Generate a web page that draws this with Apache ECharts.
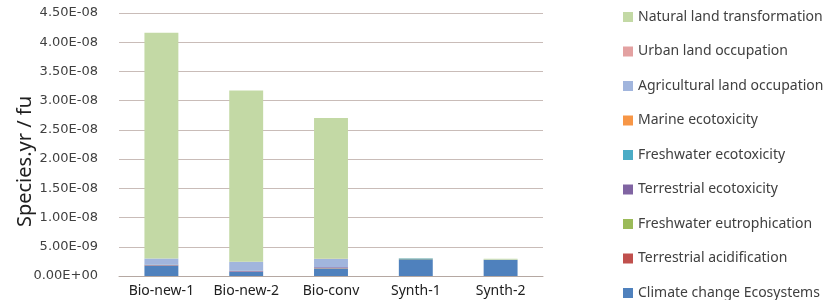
<!DOCTYPE html>
<html>
<head>
<meta charset="utf-8">
<script src="https://cdn.jsdelivr.net/npm/echarts@6/dist/echarts.min.js"></script>
<style>
html,body{margin:0;padding:0;background:#fff;}
#main{width:829px;height:300px;}
</style>
</head>
<body>
<div id="main"></div>
<script>
// 类别
var categories = ['Bio-new-1', 'Bio-new-2', 'Bio-conv', 'Synth-1', 'Synth-2'];
// 各影响类别 (Species.yr / fu)
var climateChange = [1.71e-9, 0.74e-9, 1.25e-9, 2.86e-9, 2.74e-9];
var terrAcidification = [0.05e-9, 0.03e-9, 0.05e-9, 0.01e-9, 0.01e-9];
var freshEutrophication = [0.03e-9, 0.02e-9, 0.03e-9, 0.06e-9, 0.03e-9];
var terrEcotoxicity = [0.15e-9, 0.12e-9, 0.15e-9, 0.0, 0.0];
var freshEcotoxicity = [0.01e-9, 0.01e-9, 0.01e-9, 0.06e-9, 0.01e-9];
var marineEcotoxicity = [0.01e-9, 0.01e-9, 0.01e-9, 0.01e-9, 0.01e-9];
var agriOccupation = [1.03e-9, 1.50e-9, 1.43e-9, 0.02e-9, 0.02e-9];
var urbanOccupation = [0.02e-9, 0.02e-9, 0.02e-9, 0.01e-9, 0.01e-9];
var naturalTransformation = [38.6e-9, 29.3e-9, 24.1e-9, 0.05e-9, 0.14e-9];

var seriesNames = ['Climate change Ecosystems', 'Terrestrial acidification', 'Freshwater eutrophication',
	'Terrestrial ecotoxicity', 'Freshwater ecotoxicity', 'Marine ecotoxicity',
	'Agricultural land occupation', 'Urban land occupation', 'Natural land transformation'];
var seriesData = [climateChange, terrAcidification, freshEutrophication, terrEcotoxicity,
	freshEcotoxicity, marineEcotoxicity, agriOccupation, urbanOccupation, naturalTransformation];
var colors = ['#4f81bd', '#c0504d', '#9bbb59', '#8064a2', '#4bacc6', '#f79646', '#a1b5dd', '#e3a1a1', '#c3d9a5'];

// 科学计数格式 4.50E-08
function sci(v) {
	if (v === 0) return '0.00E+00';
	var s = Number(v).toExponential(2);
	var parts = s.split('e');
	var exp = parseInt(parts[1], 10);
	var sign = exp < 0 ? '-' : '+';
	var a = Math.abs(exp);
	return parts[0] + 'E' + sign + (a < 10 ? '0' + a : a);
}

var series = [];
for (var i = 0; i < seriesNames.length; i++) {
	series.push({
		name: seriesNames[i],
		type: 'bar',
		stack: 'total',
		barWidth: '40%',
		itemStyle: {color: colors[i]},
		data: seriesData[i]
	});
}

var myChart = echarts.init(document.getElementById('main'));
var option = {
	animation: false,
	textStyle: {fontFamily: '"Noto Sans", sans-serif'},
	legend: {
		orient: 'vertical',
		left: 623,
		top: 10,
		padding: 0,
		itemWidth: 10,
		itemHeight: 10,
		itemGap: 20.5,
		icon: 'rect',
		data: seriesNames.slice().reverse(),
		textStyle: {color: '#404040', fontSize: 14, fontFamily: '"Noto Sans", sans-serif'}
	},
	grid: {
		left: 119,
		right: 286,
		top: 13,
		bottom: 24,
		outerBoundsMode: 'none'
	},
	xAxis: {
		type: 'category',
		data: categories,
		axisTick: {show: false},
		axisLine: {lineStyle: {color: '#b5a8a2', width: 1}},
		axisLabel: {color: '#202020', fontSize: 14, margin: 8, interval: 0}
	},
	yAxis: {
		type: 'value',
		min: 0,
		max: 4.5e-8,
		interval: 5e-9,
		name: 'Species.yr / fu',
		nameLocation: 'middle',
		nameGap: 84,
		nameMoveOverlap: false,
		nameTextStyle: {color: '#202020', fontSize: 20, padding: [0, 34, 0, 0]},
		axisLine: {show: false},
		axisTick: {show: false},
		splitLine: {lineStyle: {color: '#c9bcb8', width: 1}},
		axisLabel: {
			color: '#404040',
			fontSize: 13,
			fontFamily: '"DejaVu Sans", sans-serif',
			margin: 21,
			formatter: sci
		}
	},
	series: series
};
myChart.setOption(option);
</script>
</body>
</html>
